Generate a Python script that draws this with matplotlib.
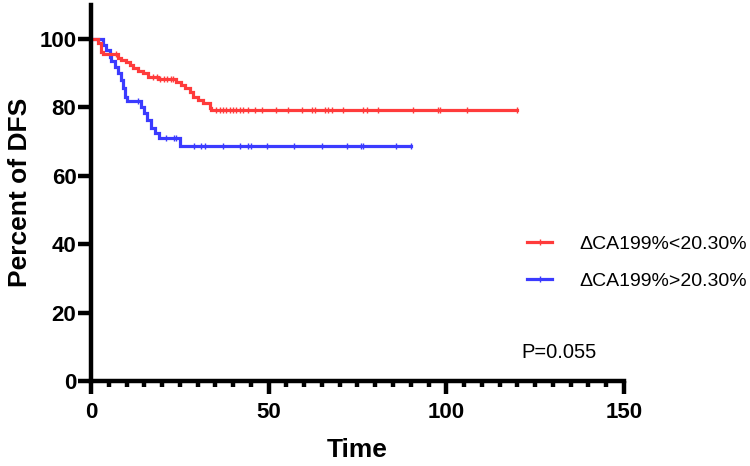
import numpy as np
import matplotlib
matplotlib.use("Agg")
import matplotlib.pyplot as plt
from matplotlib import font_manager
from matplotlib.lines import Line2D
from matplotlib.ticker import MultipleLocator

# Kaplan-Meier steps (time, percent after the step)
t_red = [0, 2.0, 2.9, 3.4, 7.6, 8.5, 9.9, 10.9, 11.8, 13.2, 14.6, 16.0, 18.9,
         24.0, 25.4, 26.4, 27.8, 28.7, 30.1, 31.5, 33.4, 33.9]
s_red = [100, 98.7, 96.3, 95.5, 94.5, 93.9, 93.2, 92.4, 91.4, 90.6, 90.0, 89.0,
         88.3, 87.5, 86.5, 85.6, 84.6, 83.1, 82.2, 81.2, 79.9, 79.2]
end_red = 120
cens_red = [7.0, 17.5, 18.5, 19.5, 20.5, 21.5, 22.5, 23.2, 35.3, 36.2, 37.2,
            38.1, 39.0, 40.0, 40.9, 41.9, 42.8, 44.2, 46.1, 48.0, 52.0, 55.5,
            59.3, 62.1, 63.0, 65.9, 66.8, 67.8, 71.0, 76.6, 77.6, 80.9, 90.7,
            97.7, 98.2, 105.7, 120]

t_blue = [0, 3.4, 4.3, 5.3, 5.7, 6.7, 7.6, 8.5, 9.0, 9.5, 10.2, 14.2, 15.0,
          15.9, 16.8, 17.9, 19.1, 25.0]
s_blue = [100, 98.2, 96.8, 94.8, 93.4, 91.9, 90.0, 88.0, 85.6, 83.1, 81.7,
          80.2, 78.3, 76.3, 73.9, 72.4, 71.0, 68.8]
end_blue = 90
cens_blue = [13.3, 21.2, 23.4, 24.0, 29.0, 31.0, 32.2, 37.2, 41.8, 44.2, 45.1,
             49.4, 57.0, 64.9, 72.0, 76.0, 76.6, 85.8, 90]

labels = ["\u0394CA199%<20.30%", "\u0394CA199%>20.30%"]
p_text = "P=0.055"

RED = "#FF3B3B"
BLUE = "#3B3BFF"

installed = {f.name for f in font_manager.fontManager.ttflist}
FONT = "Liberation Sans" if "Liberation Sans" in installed else "DejaVu Sans"
NARROW = "Liberation Sans Narrow" if "Liberation Sans Narrow" in installed else FONT
plt.rcParams["font.family"] = FONT


def km_line(ax, t, s, end, cens, color):
    """Draw a step survival curve with censor ticks"""
    x = list(t) + [end]
    y = list(s) + [s[-1]]
    ax.step(x, y, where="post", color=color, lw=2.3, solid_joinstyle="miter")
    idx = np.searchsorted(t, cens, side="right") - 1
    ax.plot(cens, np.asarray(s)[idx], ls="none", marker="|", ms=4, mew=1.0,
            color=color)


fig = plt.figure(figsize=(7.5, 4.66), dpi=100)
ax = fig.add_axes([0.1213, 0.1824, 0.7107, 0.8076])

km_line(ax, t_blue, s_blue, end_blue, cens_blue, BLUE)
km_line(ax, t_red, s_red, end_red, cens_red, RED)

ax.set_xlim(0, 150)
ax.set_ylim(0, 110)
ax.set_yticks([0, 20, 40, 60, 80, 100])
ax.xaxis.set_major_locator(MultipleLocator(50))
ax.xaxis.set_minor_locator(MultipleLocator(5))

for side in ["top", "right"]:
    ax.spines[side].set_visible(False)
for side in ["left", "bottom"]:
    ax.spines[side].set_linewidth(3.2)
    ax.spines[side].set_capstyle("projecting")

ax.tick_params(axis="y", which="major", length=9.5, width=3.2, pad=1,
               labelsize=16)
ax.tick_params(axis="x", which="major", length=9, width=3.2, pad=6,
               labelsize=16)
ax.tick_params(axis="x", which="minor", length=4.5, width=3.2)
for lab in ax.get_xticklabels() + ax.get_yticklabels():
    lab.set_fontweight("bold")
    lab.set_family(NARROW)

ax.set_xlabel("Time", fontsize=19, fontweight="bold", family=NARROW,
              labelpad=11)
ax.set_ylabel("Percent of DFS", fontsize=19, fontweight="bold", family=NARROW,
              labelpad=5)

handles = [Line2D([], [], color=RED, lw=2.3, marker="|", ms=4, mew=1.0),
           Line2D([], [], color=BLUE, lw=2.3, marker="|", ms=4, mew=1.0)]
fig.legend(handles, labels, loc="center left", bbox_to_anchor=(0.7027, 0.4367),
           frameon=False, fontsize=14.0, handlelength=1.3, handletextpad=1.4,
           labelspacing=1.02, borderpad=0, borderaxespad=0, markerscale=1)

ax.text(121, 8.2, p_text, fontsize=14.5, va="center", ha="left")

fig.savefig("out.png", dpi=100)
